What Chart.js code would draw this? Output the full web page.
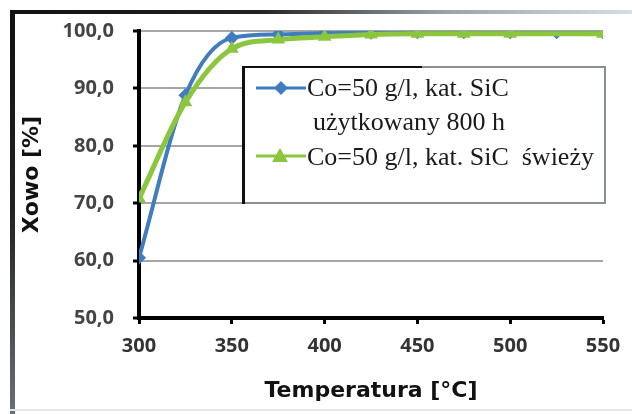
<!DOCTYPE html>
<html>
<head>
<meta charset="utf-8">
<script src="https://cdn.jsdelivr.net/npm/chart.js@4/dist/chart.umd.min.js"></script>
<style>
  html, body { margin: 0; padding: 0; background: #ffffff; }
  #wrap { position: relative; width: 632px; height: 414px; overflow: hidden; }
  #frameTop { position: absolute; left: 10px; top: 10px; width: 622px; height: 4px;
    background: linear-gradient(to right, #111 0%, #222 40%, #9aa3ad 70%, #d6dde6 100%); }
  #frameLeft { position: absolute; left: 10px; top: 10px; width: 5px; height: 404px;
    background: linear-gradient(to bottom, #111 0%, #222 50%, #6b6f76 100%); }
  #frameBottom { position: absolute; left: 10px; top: 409px; width: 622px; height: 2px; background: #e3e7ec; }
  canvas { position: absolute; left: 0; top: 0; }
</style>
</head>
<body>
<div id="wrap">
  <div id="frameTop"></div>
  <div id="frameLeft"></div>
  <div id="frameBottom"></div>
  <canvas id="chart" width="632" height="414"></canvas>
</div>
<script>
// dane
const temperatures = [300, 325, 350, 375, 400, 425, 450, 475, 500, 525, 550];
const usedValues = [60.5, 88.8, 98.8, 99.4, 99.6, 99.7, 99.8, 99.8, 99.8, 99.8, 99.8];
const freshValues = [70.8, 87.6, 96.9, 98.5, 99.0, 99.4, 99.5, 99.5, 99.5, null, 99.5];
const usedLabel = ["Co=50 g/l, kat. SiC", "użytkowany 800 h"];
const freshLabel = ["Co=50 g/l, kat. SiC  świeży"];
const xTitle = "Temperatura [°C]";
const yTitle = "Xowo [%]";

const blue = "#3f7cc0";
const green = "#8cc63f";

const toPoints = (values) => temperatures.map((t, i) => ({ x: t, y: values[i] }));

// legenda rysowana recznie w ramce
const boxLegend = {
  id: "boxLegend",
  afterDraw(chart) {
    const c = chart.ctx;
    c.save();
    c.fillStyle = "#ffffff";
    c.fillRect(243, 67, 362, 136);
    c.strokeStyle = "#8a8f96";
    c.lineWidth = 2;
    c.strokeRect(243, 67, 362, 136);
    c.fillStyle = "#111";
    c.fillRect(242, 66, 3, 138);
    c.fillRect(242, 66, 180, 2);

    // niebieski wpis
    c.strokeStyle = blue;
    c.lineWidth = 3;
    c.beginPath(); c.moveTo(256, 88); c.lineTo(306, 88); c.stroke();
    c.fillStyle = blue;
    c.beginPath(); c.moveTo(281, 81); c.lineTo(288, 88); c.lineTo(281, 95); c.lineTo(274, 88); c.closePath(); c.fill();

    // zielony wpis
    c.strokeStyle = green;
    c.beginPath(); c.moveTo(256, 156); c.lineTo(306, 156); c.stroke();
    c.fillStyle = green;
    c.beginPath(); c.moveTo(280, 148); c.lineTo(288, 162); c.lineTo(272, 162); c.closePath(); c.fill();

    c.fillStyle = "#1a1a1a";
    c.font = "26px 'Liberation Serif', 'DejaVu Serif', serif";
    c.textBaseline = "middle";
    c.fillText(usedLabel[0], 307, 89);
    c.fillText(usedLabel[1], 313, 123);
    c.fillText(freshLabel[0], 307, 158);
    c.restore();
  }
};

const ctx = document.getElementById("chart").getContext("2d");
const chart = new Chart(ctx, {
  type: "line",
  data: {
    datasets: [
      {
        label: usedLabel.join(" "),
        data: toPoints(usedValues),
        borderColor: blue,
        backgroundColor: blue,
        borderWidth: 4,
        pointStyle: "rectRot",
        pointRadius: 7,
        pointBorderWidth: 0,
        cubicInterpolationMode: "monotone",
        order: 2
      },
      {
        label: freshLabel[0],
        data: toPoints(freshValues),
        borderColor: green,
        backgroundColor: green,
        borderWidth: 5,
        pointStyle: "triangle",
        pointRadius: 8,
        pointBorderWidth: 0,
        cubicInterpolationMode: "monotone",
        spanGaps: true,
        order: 1
      }
    ]
  },
  options: {
    responsive: false,
    animation: false,
    layout: { padding: { left: 0, right: 29, top: 29, bottom: 0 } },
    plugins: { legend: { display: false }, tooltip: { enabled: false } },
    scales: {
      x: {
        type: "linear",
        min: 300,
        max: 550,
        afterFit: (s) => { s.height = 96; },
        ticks: {
          stepSize: 50,
          padding: 10,
          color: "#333",
          font: { family: "'Open Sans', sans-serif", size: 20, weight: "bold" }
        },
        grid: { drawOnChartArea: false, tickLength: 6, tickColor: "#000", tickWidth: 3 },
        border: { color: "#000", width: 4 },
        title: {
          display: true,
          text: xTitle,
          color: "#111",
          padding: { top: 0, bottom: 10 },
          font: { family: "'DejaVu Sans', sans-serif", size: 22, weight: "bold" }
        }
      },
      y: {
        min: 50,
        max: 100,
        afterFit: (s) => { s.width = 139; },
        ticks: {
          stepSize: 10,
          padding: 19,
          color: "#444",
          font: { family: "'Open Sans', sans-serif", size: 20, weight: "bold" },
          callback: (v) => v.toFixed(1).replace(".", ",")
        },
        grid: { color: "#a6a6a6", lineWidth: 2, tickLength: 6, tickColor: "#000", tickWidth: 3 },
        border: { color: "#000", width: 4 },
        title: {
          display: true,
          text: yTitle,
          color: "#111",
          padding: { top: 19, bottom: 0 },
          font: { family: "'DejaVu Sans', sans-serif", size: 22, weight: "bold" }
        }
      }
    }
  },
  plugins: [boxLegend]
});
</script>
</body>
</html>
